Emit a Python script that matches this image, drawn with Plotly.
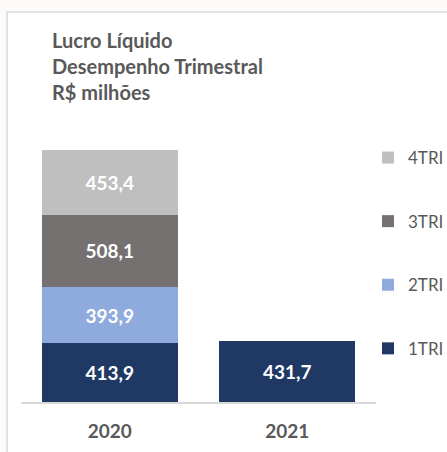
import plotly.graph_objects as go

years = ["2020", "2021"]
series_names = ["1TRI", "2TRI", "3TRI", "4TRI"]
values_1tri = [413.9, 431.7]
values_2tri = [393.9, None]
values_3tri = [508.1, None]
values_4tri = [453.4, None]
colors = ["#1f3864", "#8faadc", "#767171", "#bfbfbf"]

title_text = "<b>Lucro Líquido<br>Desempenho Trimestral<br>R$ milhões</b>"

W, H = 447, 452
ML, MR, MT, MB = 21, 71, 140, 50
PW, PH = W - ML - MR, H - MT - MB

FONT = "Lato"
GRAY = "#595959"

fig = go.Figure()
all_vals = [values_1tri, values_2tri, values_3tri, values_4tri]
for i, (name, vals, col) in enumerate(zip(series_names, all_vals, colors)):
    fig.add_trace(go.Bar(
        x=years, y=vals, name=name, marker=dict(color=col, line=dict(width=0)),
        legendgroup=name, legendrank=10 - i,
        texttemplate="<b>%{y:.1f}</b>", textposition="inside",
        insidetextanchor="middle", textangle=0,
        textfont=dict(color="white", size=19, family=FONT),
        cliponaxis=False,
    ))

def px_x(p):
    return (p - ML) / PW

def px_y(p):
    return (H - MB - p) / PH

fig.update_layout(
    width=W, height=H,
    barmode="stack", bargap=0.234,
    separators=",.",
    paper_bgcolor="#fcfbf9", plot_bgcolor="rgba(0,0,0,0)",
    margin=dict(l=ML, r=MR, t=MT, b=MB, autoexpand=False),
    font=dict(family=FONT, color=GRAY),
    title=dict(text=title_text, x=52 / W, xanchor="left", xref="container",
               y=1 - 48 / H, yanchor="top", yref="container",
               font=dict(size=20, color=GRAY, family=FONT)),
    xaxis=dict(range=[-0.5, 1.5], showline=True, linecolor="#d9d9d9", linewidth=1.5,
               ticks="", showgrid=False, zeroline=False, fixedrange=True,
               tickfont=dict(size=19, color=GRAY, family=FONT, weight="bold"),
               ticklabelstandoff=11),
    yaxis=dict(range=[0, PH * 7.021], visible=False, showgrid=False, zeroline=False,
               fixedrange=True),
    showlegend=True,
    legend=dict(x=px_x(368), xanchor="left", y=px_y(140), yanchor="top",
                traceorder="grouped", tracegroupgap=38.5,
                font=dict(size=17, color=GRAY, family=FONT),
                bgcolor="rgba(0,0,0,0)", itemclick=False),
    shapes=[dict(type="rect", xref="paper", yref="paper", layer="below",
                 x0=px_x(7), x1=px_x(470), y0=px_y(12), y1=px_y(470),
                 line=dict(color="#d9d9d9", width=1.5), fillcolor="white")],
)

fig.write_html("out.html", config={"displayModeBar": False},
               post_script="document.body.style.margin='0';document.body.style.overflow='hidden';")
